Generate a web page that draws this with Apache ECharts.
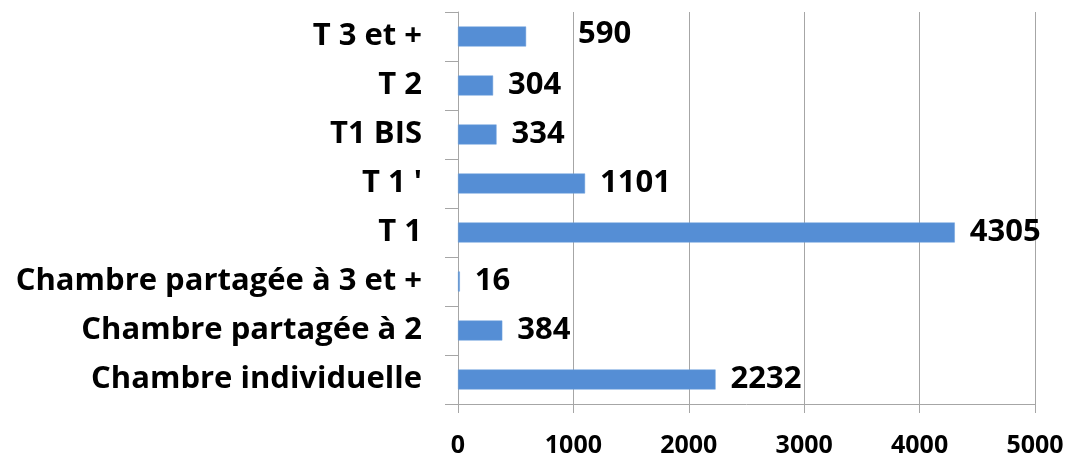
<!DOCTYPE html>
<html><head><meta charset="utf-8">
<script src="https://cdn.jsdelivr.net/npm/echarts@6/dist/echarts.min.js"></script>
<style>html,body{margin:0;padding:0;background:#fff}#c{width:1072px;height:460px}</style>
</head><body><div id="c"></div>
<script>
const categories = ['Chambre individuelle','Chambre partagée à 2','Chambre partagée à 3 et +','T 1',"T 1 '",'T1 BIS','T 2','T 3 et +'];
const values = [2232, 384, 16, 4305, 1101, 334, 304, 590];
const xTicks = [0, 1000, 2000, 3000, 4000, 5000];

const FONT = '"Open Sans"';
const chart = echarts.init(document.getElementById('c'), null, {renderer: 'canvas'});
chart.setOption({
  animation: false,
  backgroundColor: '#fff',
  grid: {left: 458, right: 37, top: 12, bottom: 56, containLabel: false},
  xAxis: {
    type: 'value', min: xTicks[0], max: xTicks[xTicks.length - 1], interval: 1000,
    axisLine: {show: true, lineStyle: {color: '#a6a6a6', width: 1}},
    axisTick: {show: true, length: 9, lineStyle: {color: '#a6a6a6'}},
    splitLine: {show: true, lineStyle: {color: '#a6a6a6', width: 1}},
    axisLabel: {color: '#000', fontFamily: FONT, fontWeight: 'bold', fontSize: 25, margin: 29,
      formatter: v => String(v)}
  },
  yAxis: {
    type: 'category', data: categories,
    axisLine: {show: true, lineStyle: {color: '#a6a6a6', width: 1}},
    axisTick: {show: true, length: 13, lineStyle: {color: '#a6a6a6'}},
    axisLabel: {color: '#000', fontFamily: FONT, fontWeight: 'bold', fontSize: 31, margin: 36}
  },
  series: [{
    type: 'bar',
    data: values.map((v, i) => categories[i] === 'T 3 et +'
      ? {value: v, label: {offset: [37, -2]}}
      : v),
    barWidth: 20,
    itemStyle: {color: '#558ed5', borderColor: '#6fa0dd', borderWidth: 0.5},
    label: {show: true, position: 'right', distance: 15, color: '#000',
      fontFamily: FONT, fontWeight: 'bold', fontSize: 31}
  }]
});
</script></body></html>
